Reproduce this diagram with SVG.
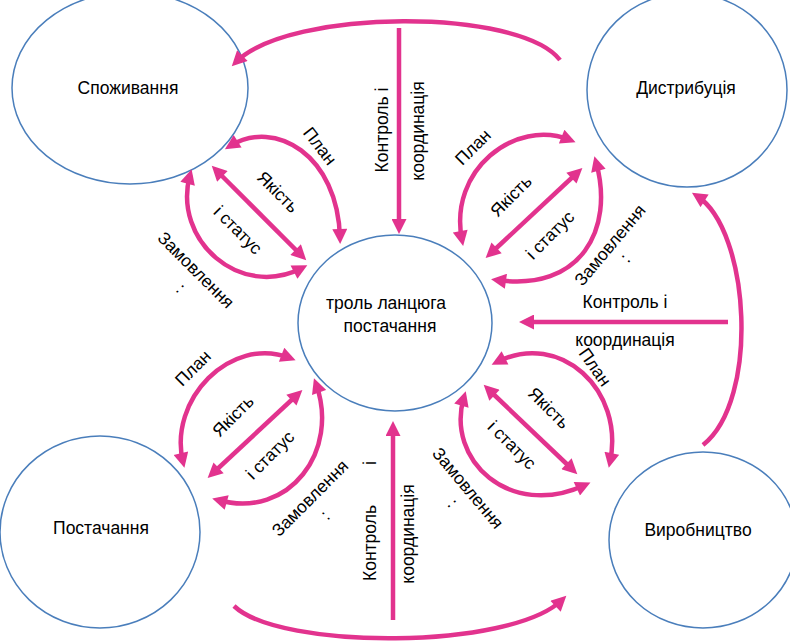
<svg xmlns="http://www.w3.org/2000/svg" width="790" height="643" viewBox="0 0 790 643">
<style>
.node{fill:#fff;stroke:#4A7EBB;stroke-width:1.5}
.lbl{font-family:"Liberation Sans",Arial,sans-serif;font-size:17.5px;fill:#000;text-anchor:middle;dominant-baseline:central}
.sm{font-family:"Liberation Sans",Arial,sans-serif;font-size:17.5px;fill:#000;text-anchor:middle;dominant-baseline:central}
.c{fill:none;stroke:#E2338E;stroke-width:4.5}
.a1{marker-end:url(#ah)}
.a2{marker-start:url(#ah);marker-end:url(#ah)}
</style>
<defs>
<marker id="ah" viewBox="0 0 10 10" refX="6" refY="5" markerWidth="17" markerHeight="15" markerUnits="userSpaceOnUse" orient="auto-start-reverse">
<path d="M0,0 L10,5 L0,10 z" fill="#E2338E"/>
</marker>
</defs>
<g id="n-spozhyvannia"><ellipse class="node" cx="130" cy="88" rx="118" ry="96"/><text class="lbl" x="128" y="88">Споживання</text></g>
<g id="n-dystrybutsiia"><ellipse class="node" cx="687" cy="90" rx="100" ry="97"/><text class="lbl" x="686" y="88">Дистрибуція</text></g>
<g id="n-postachannia"><ellipse class="node" cx="100" cy="532" rx="100" ry="96"/><text class="lbl" x="101" y="528">Постачання</text></g>
<g id="n-vyrobnytstvo"><ellipse class="node" cx="703" cy="540" rx="94" ry="88"/><text class="lbl" x="698" y="530">Виробництво</text></g>
<g id="n-center"><ellipse class="node" cx="395" cy="323" rx="97" ry="88"/><text class="lbl" x="386" y="303">троль ланцюга</text><text class="lbl" x="390" y="326">постачання</text></g>
<g id="connectors">
<path class="c a1" d="M560 60 C520 8,290 8,236 62"/>
<path class="c a1" d="M234 606 C280 650,510 650,562 600"/>
<path class="c a1" d="M703 445 C760 400,750 230,697 196"/>
<path class="c a1" d="M399 28 L399 228"/>
<path class="c a1" d="M393 620 L393 427"/>
<path class="c a1" d="M728 322 L525 322"/>
<path class="c a2" d="M230 146 C275 118,338 155,340 238"/>
<path class="c a2" d="M190 175 C172 240,240 300,302 268"/>
<path class="c a2" d="M216 170 L302 256"/>
<path class="c a2" d="M462 240 C448 170,515 118,570 140"/>
<path class="c a2" d="M596 162 C615 230,580 292,497 280"/>
<path class="c a2" d="M490 254 L578 172"/>
<path class="c a2" d="M183 462 C168 400,230 335,290 358"/>
<path class="c a2" d="M316 384 C340 450,290 520,218 500"/>
<path class="c a2" d="M212 474 L298 394"/>
<path class="c a2" d="M497 362 C560 330,625 390,610 462"/>
<path class="c a2" d="M464 397 C445 460,510 520,585 485"/>
<path class="c a2" d="M488 389 L573 470"/>
</g>
<g id="labels">
<text class="sm" transform="translate(382,130) rotate(-90)">Контроль і</text>
<text class="sm" transform="translate(418,131) rotate(-90)">координація</text>
<text class="sm" transform="translate(370,543) rotate(-90)">Контроль</text>
<text class="sm" transform="translate(370,463) rotate(-90)">і</text>
<text class="sm" transform="translate(408,534) rotate(-90)">координація</text>
<text class="sm" x="625" y="302">Контроль і</text>
<text class="sm" x="625" y="340">координація</text>
<text class="sm" transform="translate(320,146) rotate(52)">План</text>
<text class="sm" transform="translate(278,192) rotate(45)">Якість</text>
<text class="sm" transform="translate(238,230) rotate(45)">і статус</text>
<text class="sm" transform="translate(196,270) rotate(45)">Замовлення</text>
<text class="sm" transform="translate(181,288) rotate(45)">:</text>
<text class="sm" transform="translate(473,147) rotate(-45)">План</text>
<text class="sm" transform="translate(511,196) rotate(-45)">Якість</text>
<text class="sm" transform="translate(550,235) rotate(-45)">і статус</text>
<text class="sm" transform="translate(610,245) rotate(-50)">Замовлення</text>
<text class="sm" transform="translate(625,258) rotate(-50)">:</text>
<text class="sm" transform="translate(193,368) rotate(-45)">План</text>
<text class="sm" transform="translate(233,416) rotate(-45)">Якість</text>
<text class="sm" transform="translate(270,455) rotate(-45)">і статус</text>
<text class="sm" transform="translate(310,498) rotate(-45)">Замовлення</text>
<text class="sm" transform="translate(325,515) rotate(-45)">:</text>
<text class="sm" transform="translate(595,367) rotate(55)">План</text>
<text class="sm" transform="translate(549,408) rotate(45)">Якість</text>
<text class="sm" transform="translate(512,445) rotate(45)">і статус</text>
<text class="sm" transform="translate(468,488) rotate(50)">Замовлення</text>
<text class="sm" transform="translate(453,503) rotate(50)">:</text>
</g>
</svg>
